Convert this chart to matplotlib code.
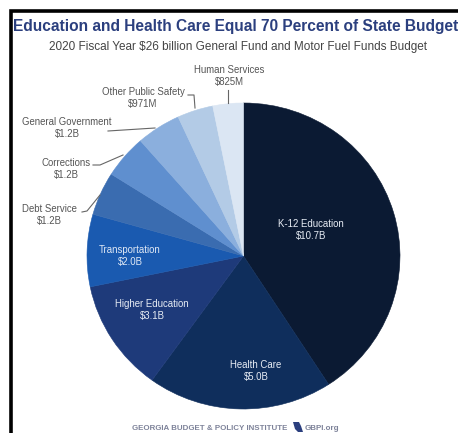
import matplotlib
matplotlib.use('Agg')
import matplotlib.pyplot as plt

categories = ['K-12 Education', 'Health Care', 'Higher Education', 'Transportation', 'Debt Service',
              'Corrections', 'General Government', 'Other Public Safety', 'Human Services']
amounts = [10.7, 5.0, 3.1, 2.0, 1.2, 1.2, 1.2, 0.971, 0.825]
amount_labels = ['$10.7B', '$5.0B', '$3.1B', '$2.0B', '$1.2B', '$1.2B', '$1.2B', '$971M', '$825M']
colors = ['#0b1a33', '#0f2e5c', '#1e3a7a', '#1a5ab0', '#3a6cb0', '#5f8fcf', '#8bafdd', '#b3cbe6', '#dbe6f3']

plt.rcParams['font.family'] = ['Liberation Sans', 'DejaVu Sans']
W, H = 458, 433
fig = plt.figure(figsize=(W / 100, H / 100), dpi=100)

# page overlay in pixel coordinates, same as the picture
page = fig.add_axes([0, 0, 1, 1])
page.set_xlim(0, W)
page.set_ylim(H, 0)
page.axis('off')

# frame of the screenshot
page.plot([11, 11, W], [H, 11, 11], color='black', lw=2.6, solid_joinstyle='miter')

# pie, slightly squashed like the reference
cx, cy, rx, ry = 243.5, 256, 156.5, 153
ax = fig.add_axes([(cx - rx) / W, 1 - (cy + ry) / H, 2 * rx / W, 2 * ry / H])
wedges, _ = ax.pie(amounts, colors=colors, startangle=90, counterclock=False, radius=1)
for wedge, color in zip(wedges, colors):
    wedge.set_edgecolor(color)
    wedge.set_linewidth(0.4)
ax.set_aspect('auto')
ax.set_xlim(-1, 1)
ax.set_ylim(-1, 1)

page.set_zorder(3)
page.patch.set_alpha(0)

page.text(236, 27, 'Education and Health Care Equal 70 Percent of State Budget', color='#2b3f7e',
          fontsize=11.2, fontweight='bold', ha='center', va='center')
page.text(238, 47, '2020 Fiscal Year \\$26 billion General Fund and Motor Fuel Funds Budget', color='#444444',
          fontsize=8.5, ha='center', va='center')


def label(i, x, y, color='#555555', size=6.9):
    page.text(x, y, categories[i] + '\n' + amount_labels[i].replace('$', '\\$'), color=color,
              fontsize=size, ha='center', va='center', linespacing=1.3)


label(0, 311, 230, '#e8edf5')
label(1, 256, 371, '#e8edf5')
label(2, 152, 310, '#e8edf5')
label(3, 130, 256, '#dfe8f5')
label(4, 49, 215)
label(5, 66, 169)
label(6, 67, 128)
label(7, 143, 98)
label(8, 229, 76)

# leader lines
leader = {'color': '#666666', 'lw': 0.8}
page.plot([82, 87, 100], [212, 211, 195], **leader)
page.plot([93, 100, 123], [165, 165, 155], **leader)
page.plot([108, 155], [131, 128], **leader)
page.plot([188, 194, 195], [95, 95, 108], **leader)
page.plot([228, 228], [90, 103], **leader)

page.text(210, 428, 'GEORGIA BUDGET & POLICY INSTITUTE', color='#7d8299', fontsize=5.7,
          ha='center', va='center', fontweight='bold')
page.text(322, 428, 'GBPI.org', color='#7d8299', fontsize=5.8, ha='center', va='center', fontweight='bold')
page.fill([293, 299, 301, 303, 298, 295], [422, 422, 426, 432, 432, 429], color='#2b3f7e', lw=0)

fig.savefig('out.png', dpi=100)
